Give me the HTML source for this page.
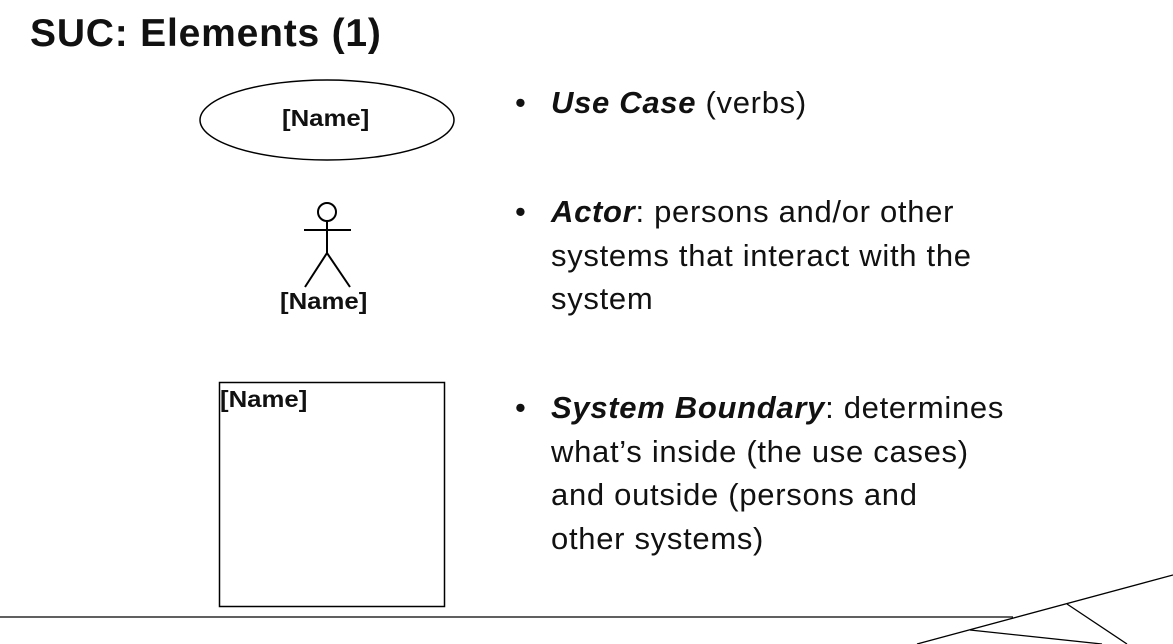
<!DOCTYPE html>
<html><head><style>
body{margin:0;width:1173px;height:644px;background:#fff;position:relative;overflow:hidden;font-family:"Liberation Sans",Arial,sans-serif}
.t{position:absolute;left:30px;top:12px;font-size:39px;font-weight:bold;color:#111;letter-spacing:0.8px}
.b{position:absolute;left:551px;font-size:31px;line-height:43.5px;color:#111;letter-spacing:0.7px;white-space:nowrap}
.b:before{content:"•";position:absolute;left:-36px}
.lb{position:absolute;font-weight:bold;font-size:23px;color:#111;transform:scaleX(1.12);transform-origin:left}
</style></head><body>
<div class="t">SUC: Elements (1)</div>
<svg width="1173" height="644" style="position:absolute;left:0;top:0">
<ellipse cx="327" cy="120" rx="127" ry="40" fill="none" stroke="#000" stroke-width="1.5"/>
<circle cx="327" cy="212" r="9" fill="none" stroke="#000" stroke-width="2"/>
<line x1="327" y1="221" x2="327" y2="253" stroke="#000" stroke-width="2"/>
<line x1="304" y1="230" x2="351" y2="230" stroke="#000" stroke-width="2"/>
<line x1="327" y1="253" x2="305" y2="287" stroke="#000" stroke-width="2"/>
<line x1="327" y1="253" x2="350" y2="287" stroke="#000" stroke-width="2"/>
<rect x="219.5" y="382.5" width="225" height="224" fill="none" stroke="#000" stroke-width="1.5"/>
<line x1="0" y1="617" x2="1013" y2="617" stroke="#000" stroke-width="1.2"/>
<line x1="917" y1="644" x2="1173" y2="575" stroke="#000" stroke-width="1.3"/>
<line x1="970" y1="630" x2="1102" y2="644" stroke="#000" stroke-width="1.3"/>
<line x1="1067" y1="604" x2="1127" y2="644" stroke="#000" stroke-width="1.3"/>
</svg>
<div class="lb" style="left:282px;top:105px">[Name]</div>
<div class="lb" style="left:280px;top:288px">[Name]</div>
<div class="lb" style="left:220px;top:386px">[Name]</div>
<div class="b" style="top:81px"><b><i>Use Case</i></b> (verbs)</div>
<div class="b" style="top:190px"><b><i>Actor</i></b>: persons and/or other<br>systems that interact with the<br>system</div>
<div class="b" style="top:386px"><b><i>System Boundary</i></b>: determines<br>what’s inside (the use cases)<br>and outside (persons and<br>other systems)</div>
</body></html>
